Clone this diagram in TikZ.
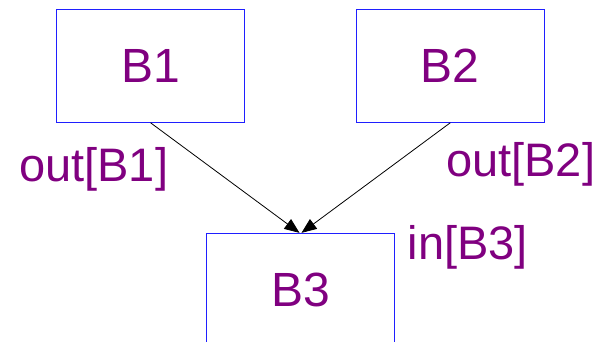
\documentclass[tikz,border=0pt]{standalone}
\usepackage{fontspec}
\setmainfont{Liberation Sans}
\usetikzlibrary{arrows.meta}
\definecolor{labelpurple}{HTML}{800080}
\definecolor{boxblue}{HTML}{1F1FFF}
\begin{document}
\begin{tikzpicture}[x=1pt,y=-1pt,
  block/.style={draw=boxblue,line width=0.9pt,rectangle,minimum width=187.6pt,
    minimum height=113pt,inner sep=0pt,text=labelpurple,
    font=\fontsize{48}{58}\selectfont},
  setlabel/.style={anchor=base west,inner sep=0pt,text=labelpurple,
    font=\fontsize{47}{56}\selectfont},
  flow/.style={draw=black,line width=0.8pt,-{Triangle[length=15pt,width=12pt]}}]
  \useasboundingbox (0,0) rectangle (597,342);
  \clip (0,0) rectangle (597,342);
  % basic blocks
  \node[block] (B1) at (150.5,65.8) {B1};
  \node[block] (B2) at (450.3,65.8) {B2};
  \node[block] (B3) at (300.5,289.8) {B3};
  % data-flow set labels
  \node[setlabel] (outB1) at (19,181.7) {out[B1]};
  \node[setlabel] (outB2) at (446,176.7) {out[B2]};
  \node[setlabel] (inB3) at (407.5,259.7) {in[B3]};
  % control-flow edges
  \coordinate (t1) at ([xshift=-1pt]B3.north);
  \coordinate (t2) at ([xshift=1pt]B3.north);
  \draw[flow] (B1.south) -- (t1);
  \draw[flow] (B2.south) -- (t2);
\end{tikzpicture}
\end{document}
